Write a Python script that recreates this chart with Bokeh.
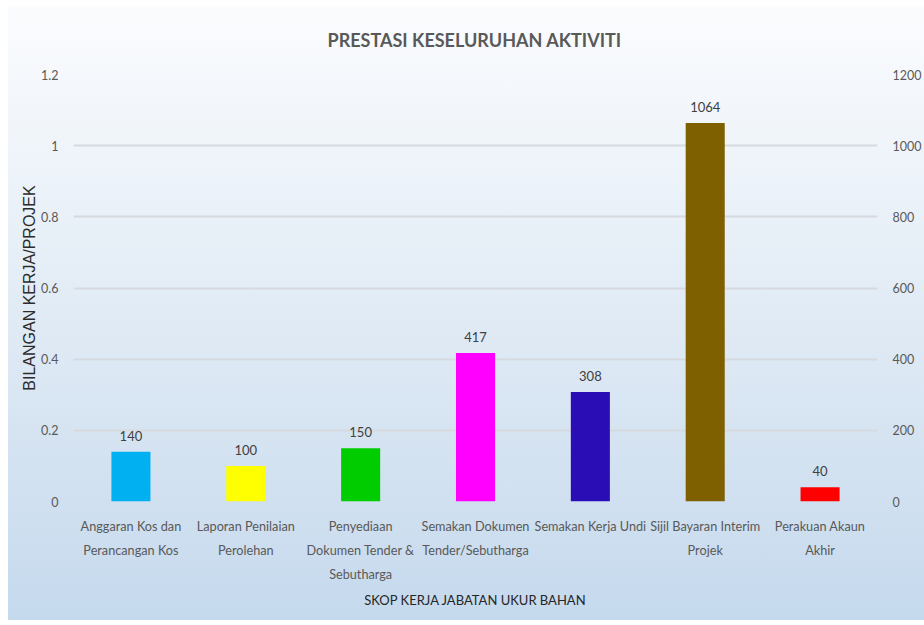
from bokeh.plotting import figure
from bokeh.models import (ColumnDataSource, FactorRange, Range1d, LinearAxis,
                          FixedTicker, CustomJSTickFormatter, LabelSet)
from bokeh.core.properties import value
from bokeh.embed import file_html
from bokeh.resources import INLINE

# ---- data ----
categories = [
    "Anggaran Kos dan\nPerancangan Kos",
    "Laporan Penilaian\nPerolehan",
    "Penyediaan\nDokumen Tender &\nSebutharga",
    "Semakan Dokumen\nTender/Sebutharga",
    "Semakan Kerja Undi",
    "Sijil Bayaran Interim\nProjek",
    "Perakuan Akaun\nAkhir",
]
values = [140, 100, 150, 417, 308, 1064, 40]
bar_colors = ["#00b0f0", "#ffff00", "#00cc00", "#ff00ff", "#2a0db5", "#7f6000", "#ff0000"]
left_ticks = [0, 0.2, 0.4, 0.6, 0.8, 1, 1.2]
right_ticks = [0, 200, 400, 600, 800, 1000, 1200]

title_text = "PRESTASI KESELURUHAN AKTIVITI"
y_title = "BILANGAN KERJA/PROJEK"
x_title = "SKOP KERJA JABATAN UKUR BAHAN"

source = ColumnDataSource(dict(
    cat=categories,
    val=values,
    color=bar_colors,
    label=[str(v) for v in values],
))

bg = ("linear-gradient(to right, #ffffff 0px, #ffffff 8px, rgba(255,255,255,0) 8px), "
      "linear-gradient(to bottom, #ffffff 0px, #ffffff 6px, #fbfcfe 6px, #e4edf6 45%, #c5d9ed 100%)")

p = figure(
    width=924, height=620,
    x_range=FactorRange(*categories, range_padding=0),
    y_range=Range1d(left_ticks[0], left_ticks[-1]),
    output_backend="svg", toolbar_location=None,
    min_border_left=73, min_border_right=36,
    min_border_top=74, min_border_bottom=119,
    styles={"background": bg},
)
p.border_fill_color = None
p.background_fill_color = None
p.outline_line_color = None

p.extra_y_ranges = {"count": Range1d(right_ticks[0], right_ticks[-1])}

p.vbar(x="cat", top="val", width=0.34, color="color", source=source,
       y_range_name="count", line_color=None)

labels = LabelSet(x="cat", y="val", text="label", source=source, y_range_name="count",
                  text_align="center", text_baseline="bottom", y_offset=11,
                  text_font=value("Lato"), text_font_size=value("13px"),
                  text_color=value("#404040"))
p.add_layout(labels)

# title
p.title.text = title_text
p.title.align = "left"
p.title.offset = 254
p.title.standoff = 48
p.title.text_font = "Lato"
p.title.text_font_size = "18px"
p.title.text_font_style = "bold"
p.title.text_color = "#595959"

# left axis
ya = p.yaxis[0]
ya.ticker = FixedTicker(ticks=left_ticks)
ya.formatter = CustomJSTickFormatter(code="return tick.toString();")
ya.axis_label = y_title
ya.axis_label_text_font = "Liberation Sans"
ya.axis_label_text_font_size = "16px"
ya.axis_label_text_font_style = "normal"
ya.axis_label_text_color = "#2b2b2b"
ya.axis_label_standoff = 0
ya.major_label_text_font = "Lato"
ya.major_label_text_font_size = "12.5px"
ya.major_label_text_color = "#595959"
ya.major_label_standoff = 9
ya.axis_line_color = None
ya.major_tick_line_color = None
ya.minor_tick_line_color = None

# right axis
ra = LinearAxis(y_range_name="count", ticker=FixedTicker(ticks=right_ticks))
ra.major_label_text_font = "Lato"
ra.major_label_text_font_size = "12.5px"
ra.major_label_text_color = "#595959"
ra.major_label_standoff = 9
ra.axis_line_color = None
ra.major_tick_line_color = None
ra.minor_tick_line_color = None
p.add_layout(ra, "right")

# x axis
xa = p.xaxis[0]
xa.major_label_text_font = "Lato"
xa.major_label_text_font_size = "12.7px"
xa.major_label_text_color = "#595959"
xa.major_label_text_line_height = 1.5
xa.major_label_standoff = 10
xa.axis_label = x_title
xa.axis_label_text_font = "Lato"
xa.axis_label_text_font_size = "13px"
xa.axis_label_text_font_style = "normal"
xa.axis_label_text_color = "#262626"
xa.axis_label_standoff = 7
xa.axis_line_color = None
xa.major_tick_line_color = None
xa.minor_tick_line_color = None

p.xgrid.grid_line_color = None
p.ygrid.grid_line_color = "#d6d9dd"
p.ygrid.grid_line_width = 2

open("out.html", "w").write(file_html(p, INLINE))
